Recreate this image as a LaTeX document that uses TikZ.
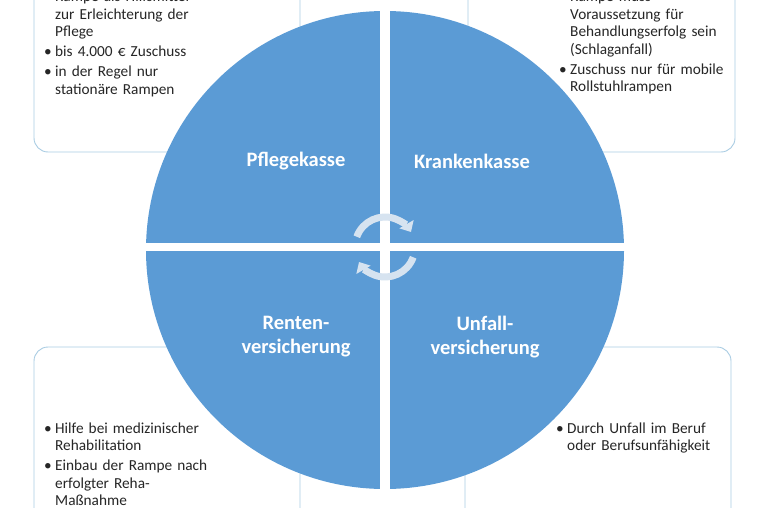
\documentclass[tikz,border=0pt]{standalone}
\usepackage{fontspec}
\setmainfont{Carlito}
\usetikzlibrary{arrows.meta}
\definecolor{qblue}{HTML}{5B9BD5}
\definecolor{boxline}{HTML}{A9CCE3}
\definecolor{arr}{HTML}{D6E3F0}
\definecolor{txt}{HTML}{262626}
\newcommand{\bitem}[1]{\noindent\hangindent=11pt\hangafter=1\makebox[11pt][l]{•}#1\par}
\begin{document}
\begin{tikzpicture}[x=1pt,y=-1pt,
  box/.style={draw=boxline,line width=0.9pt,rounded corners=14pt,fill=white},
  item/.style={anchor=base west,inner sep=0pt,text width=#1,font=\fontsize{15.3}{17.5}\selectfont,text=txt},
  lab/.style={text=white,font=\fontsize{20.5}{24}\selectfont\bfseries,align=center},
  cyc/.style={draw=arr,line width=7pt,-{Triangle[length=9pt,width=16pt]}}]
\useasboundingbox (0,0) rectangle (762,508);
\begin{scope}
\clip (0,0) rectangle (762,508);
\draw[box] (34,-30) rectangle (300,152);
\draw[box] (468,-30) rectangle (735,152);
\draw[box] (34,347) rectangle (300,540);
\draw[box] (465,347) rectangle (731,540);
\fill[qblue] (385,250) circle (239);
\fill[white] (380,0) rectangle (390,520);
\fill[white] (140,243) rectangle (630,251);
% top-left
\node[item=250pt] (t1) at (44,2) {\raggedright\bitem{Rampe als Hilfsmittel\newline zur Erleichterung der\newline Pflege}\vspace{2.5pt}\bitem{bis 4.000 € Zuschuss}\vspace{2.5pt}\bitem{in der Regel nur\newline stationäre Rampen}};
% top-right
\node[item=185pt] (t2) at (559,2) {\raggedright\bitem{Rampe muss\newline Voraussetzung für\newline Behandlungserfolg sein\newline (Schlaganfall)}\vspace{2.5pt}\bitem{Zuschuss nur für mobile\newline Rollstuhlrampen}};
% bottom-left
\node[item=250pt] (t3) at (44,433) {\raggedright\bitem{Hilfe bei medizinischer\newline Rehabilitation}\vspace{2.5pt}\bitem{Einbau der Rampe nach\newline erfolgter Reha-\newline Maßnahme}};
% bottom-right
\node[item=185pt] (t4) at (556,433) {\raggedright\bitem{Durch Unfall im Beruf\newline oder Berufsunfähigkeit}};
% labels
\node[lab] (pk) at (296,161) {Pflegekasse};
\node[lab] (kk) at (472,161) {Krankenkasse};
\node[lab] (rv) at (296,337) {Renten-\\versicherung};
\node[lab] (uv) at (485,337) {Unfall-\\versicherung};
% cycle arrows
\coordinate (c) at (385,247);
\draw[cyc] ([shift={(200:30)}]c) arc[start angle=200,end angle=330,radius=30];
\draw[cyc] ([shift={(20:30)}]c) arc[start angle=20,end angle=150,radius=30];
\end{scope}
\end{tikzpicture}
\end{document}
